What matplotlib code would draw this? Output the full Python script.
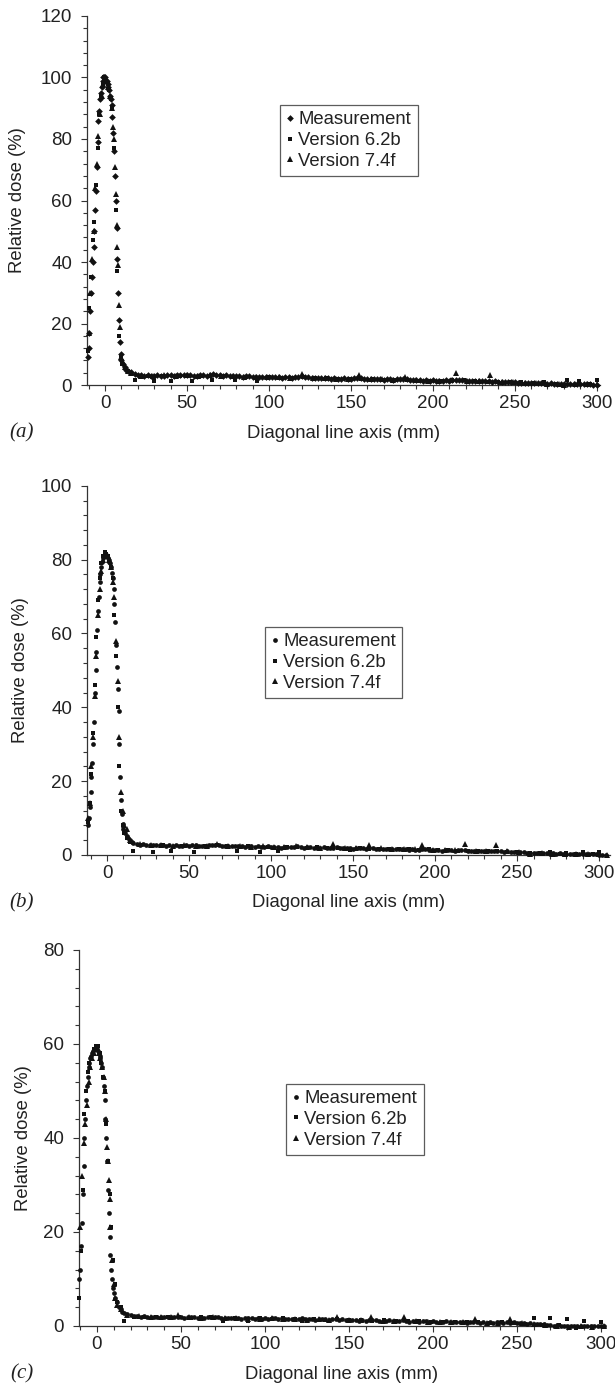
import numpy as np
import matplotlib
matplotlib.use("Agg")
import matplotlib.pyplot as plt
from matplotlib.ticker import MultipleLocator

plt.rcParams['font.family'] = ['Liberation Sans', 'DejaVu Sans']
TXT = "#222222"
INK = "#111111"

labels = ["Measurement", "Version 6.2b", "Version 7.4f"]

# ---------------- panel (a) ----------------
meas_a_x = [-10.5,-10,-9.5,-9,-8.5,-8,-7.5,-7,-6.5,-6,-5.5,-5,-4.5,-4,-3.5,-3,-2.5,-2,-1.5,-1,
            -0.5,0,0.5,1,1.5,2,2.5,3,3.5,4,4.5,5,5.5,6,6.5,7,7.5,8,8.5,9,9.5,10,11,12,13,14]
meas_a_y = [9,12,17,24,30,35,40,45,50,57,63,71,79,86,89,93,95,97,99,100,
            100,100,99,99,98,97,96,94,93,91,87,82,76,68,60,51,41,30,21,14,10,8,7,6,5,4.5]
meas_a_tail = [4.2,3.6,3.3,3.1,3.0,3.1,2.9,3.0,3.1,2.9,
               3.0,3.1,3.2,3.0,3.1,3.3,3.4,3.2,3.1,3.0,
               3.0,3.1,3.2,3.0,3.3,3.5,3.3,3.1,3.0,3.1,
               3.0,2.9,3.0,2.8,2.7,2.8,2.9,2.7,2.6,2.7,
               2.6,2.7,2.6,2.5,2.6,2.5,2.4,2.5,2.6,2.4,
               2.5,2.7,2.8,2.6,2.5,2.4,2.3,2.4,2.2,2.3,
               2.2,2.1,2.2,2.0,2.1,2.2,2.0,2.1,2.3,2.4,
               2.2,2.0,1.9,1.8,1.9,2.0,1.8,1.7,1.9,1.8,
               1.7,1.8,1.9,2.0,1.8,1.6,1.5,1.6,1.5,1.4,
               1.5,1.4,1.5,1.4,1.3,1.4,1.5,1.4,1.6,1.5,
               1.7,1.5,1.4,1.3,1.4,1.3,1.2,1.3,1.4,1.2,
               1.1,1.2,1.0,1.1,1.0,0.9,1.0,0.9,0.8,0.8,
               0.7,0.6,0.7,0.6,0.5,0.6,0.5,0.4,0.5,0.4,
               0.4,0.3,0.4,0.3,0.3,0.2,0.3,0.2,0.2,0.3,
               0.2,0.1,0.1]
meas_a_tail_x = np.arange(16, 301, 2)

v62_a_x = [-10.5,-9.5,-8.5,-7.5,-6.5,-5.5,-4.5,-3.5,-2.5,-1.5,-0.5,0.5,1.5,2.5,3.5,4.5,5.5,6.5,7.5,8.5,
           9.5,10.5,12,14,
           18,22,26,30,35,40,46,53,59,65,72,79,86,93,100,107,114,121,128,135,
           142,149,156,163,170,177,184,191,198,205,212,219,226,233,240,247,254,261,268,275,
           282,289,296,300]
v62_a_y = [11,25,35,47,53,65,77,88,94,98,100,99,98,96,93,90,77,57,37,16,
           9,7,5.5,4.5,
           1.5,3.0,2.9,1.4,2.9,1.3,3.0,1.4,3.0,1.5,3.0,1.5,2.7,1.4,2.6,2.4,2.3,2.5,2.2,2.3,
           2.0,2.1,2.0,1.8,1.7,1.6,1.7,1.3,1.4,1.3,1.5,1.6,1.3,1.1,1.0,0.9,1.0,0.6,0.9,0.4,
           1.5,1.2,0.4,1.6]

v74_a_x = [-10,-9,-8,-7,-6,-5,-4,-3,-2,-1,0,1,2,3,4,5,5.5,6,6.5,7,7.5,8,8.5,9,10,11,12,14,
           16,22,29,36,43,50,57,64,71,78,85,92,99,106,113,120,127,134,141,148,
           155,162,169,176,183,190,197,204,211,214,221,228,235,242,249,256,263,270,277,280,
           287,294,300]
v74_a_y = [17,30,41,50,64,72,81,88,94,98,100,99,97,94,90,84,80,71,62,52,45,39,26,19,9,7.5,6,4.5,
           3.8,3.0,2.9,3.1,3.0,3.4,3.0,3.1,3.0,2.8,2.7,2.6,2.5,2.5,2.4,3.6,2.3,2.2,2.1,2.0,
           3.2,1.9,1.8,1.7,2.6,1.5,1.4,1.4,1.5,4.0,1.4,1.3,3.2,1.0,0.9,0.7,0.6,0.4,0.3,0.0,
           0.3,0.2,0.3]

# ---------------- panel (b) ----------------
meas_b_x = [-11.5,-11,-10.5,-10,-9.5,-9,-8.5,-8,-7.5,-7,-6.5,-6,-5.5,-5,-4.5,-4,-3.5,-3,-2.5,-2,
            -1.5,-1,-0.5,0,0.5,1,1.5,2,2.5,3,3.5,4,4.5,5,5.5,6,6.5,7,7.5,8,8.5,9,9.5,10,
            11,12,13,14,15,16]
meas_b_y = [8,10,13,17,21,25,30,36,44,50,55,61,66,70,74,76,78,79.5,80.5,81,
            81.5,81.5,81,81,80.5,80,79.5,79,78,76.5,75,72,68,63,57,51,45,39,30,21,15,11,8.5,7,
            6,5,4.5,4,3.5,3.2]
meas_b_tail = [3.0,2.8,2.9,2.7,2.8,2.7,2.6,2.7,2.6,2.5,
               2.6,2.5,2.6,2.4,2.5,2.6,2.5,2.7,2.6,2.5,
               2.4,2.5,2.6,2.7,2.8,2.6,2.5,2.4,2.5,2.4,
               2.3,2.4,2.3,2.2,2.3,2.4,2.2,2.3,2.1,2.2,
               2.3,2.2,2.1,2.2,2.0,2.1,2.2,2.1,2.2,2.3,
               2.1,2.0,2.1,2.2,2.0,1.9,2.0,2.1,2.0,1.9,
               2.0,2.1,1.9,1.8,1.9,1.8,1.7,1.8,1.9,1.8,
               1.7,1.8,1.9,1.7,1.6,1.7,1.5,1.6,1.7,1.6,
               1.5,1.6,1.5,1.4,1.5,1.4,1.3,1.5,1.6,1.4,
               1.3,1.4,1.3,1.2,1.3,1.4,1.3,1.2,1.3,1.4,
               1.3,1.2,1.1,1.2,1.1,1.0,1.1,1.2,1.0,1.1,
               1.2,1.0,0.9,1.0,0.9,0.8,0.9,0.7,0.8,0.6,
               0.5,0.6,0.5,0.4,0.5,0.4,0.3,0.4,0.3,0.4,
               0.3,0.2,0.3,0.2,0.3,0.2,0.3,0.2,0.3,0.2,
               0.2,0.1,0.1,0.0]
meas_b_tail_x = np.arange(18, 305, 2)

v62_b_x = [-11.5,-10.5,-9.5,-8.5,-7.5,-6.5,-5.5,-4.5,-3.5,-2.5,-1.5,-0.5,0.5,1.5,2.5,3.5,4.5,5.5,6.5,7.5,
           8.5,9.5,10.5,12,14,16,
           20,28,34,39,46,53,60,67,73,79,86,93,98,104,110,116,122,128,134,141,
           148,154,160,166,172,178,184,190,196,202,208,214,220,226,232,238,244,250,258,264,
           270,276,280,286,290,296,300]
v62_b_y = [9,14,22,33,46,59,69,75,79,81,82,81.5,81,80,78,75,65,54,40,24,
           12,8,6,4.5,3.5,1.0,
           2.7,0.8,2.6,1.0,2.5,0.8,2.5,2.7,2.4,1.0,2.3,0.8,2.2,1.0,2.1,2.2,2.0,2.1,2.0,1.9,
           1.3,1.8,1.7,1.7,1.6,1.5,1.5,1.4,1.5,1.3,1.3,1.2,1.2,1.1,1.0,1.1,0.9,0.9,0.5,0.4,
           0.8,0.3,0.6,0.2,0.8,0.2,0.9]

v74_b_x = [-11.5,-10.5,-9.5,-8.5,-7.5,-6.5,-5.5,-4.5,-3.5,-2.5,-1.5,-0.5,0.5,1.5,2.5,3.5,4.5,5.5,6.5,7.5,
           8.5,9.5,10.5,12,14,
           20,27,33,40,47,54,61,67,74,81,88,95,102,108,115,122,130,138,145,152,
           160,167,174,181,188,192,199,206,212,218,225,231,237,244,251,258,265,272,279,286,
           293,300,305]
v74_b_y = [10,14,24,32,43,54,65,72,77,80,81,81.5,81,80,78,74,70,58,47,32,
           17,12,8,7,4,
           3.0,2.7,2.6,2.5,2.6,2.5,2.4,3.0,2.4,2.3,2.2,2.3,2.1,2.2,2.5,2.1,2.0,3.0,1.9,1.8,
           2.7,1.8,1.7,1.6,1.6,2.8,1.4,1.4,1.3,3.0,1.2,1.2,2.6,1.0,0.9,0.3,0.4,0.3,0.2,0.2,
           0.2,0.3,0.0]

# ---------------- panel (c) ----------------
meas_c_x = [-10.5,-10,-9.5,-9,-8.5,-8,-7.5,-7,-6.5,-6,-5.5,-5,-4.5,-4,-3.5,-3,-2.5,-2,-1.5,-1,
            -0.5,0,0.5,1,1.5,2,2.5,3,3.5,4,4.5,5,5.5,6,6.5,7,7.5,8,8.5,9,9.5,10,
            11,12,13,14,15]
meas_c_y = [10,12,17,22,28,34,40,44,48,51,53,55,56,57,57.5,58,58.5,59,59,59,
            59,59,58.5,58,57.5,57,56,55,53,51,48,44,40,35,29,24,19,15,12,10,8,7,
            6,5,4,3.5,3]
meas_c_tail = [2.8,2.5,2.3,2.2,2.1,2.0,2.1,1.9,2.0,1.9,
               2.0,1.9,1.8,1.9,1.8,1.9,2.0,1.8,1.7,1.8,
               1.9,1.8,1.7,1.8,1.7,1.8,1.9,2.0,1.8,1.7,
               1.6,1.7,1.6,1.7,1.6,1.5,1.6,1.7,1.6,1.5,
               1.6,1.5,1.6,1.5,1.6,1.7,1.5,1.6,1.5,1.4,
               1.5,1.4,1.5,1.6,1.4,1.5,1.4,1.3,1.4,1.5,
               1.4,1.3,1.4,1.5,1.3,1.4,1.3,1.2,1.3,1.2,
               1.1,1.2,1.1,1.2,1.3,1.2,1.1,1.0,1.1,1.2,
               1.1,1.0,1.1,1.2,1.0,0.9,1.0,1.1,0.9,1.0,
               1.1,0.9,1.0,0.9,0.8,0.9,1.0,0.8,0.9,0.8,
               0.9,0.8,0.7,0.8,0.9,0.8,0.7,0.8,0.7,0.8,
               0.7,0.8,0.9,0.7,0.8,0.7,0.8,0.6,0.7,0.6,
               0.5,0.6,0.5,0.4,0.5,0.4,0.2,0.1,0.0,0.1,
               0.0,-0.1,0.0,-0.1,0.0,-0.1,0.0,-0.1,0.0,-0.1,
               0.0,-0.1,0.0,0.0]
meas_c_tail_x = np.arange(16, 303, 2)

v62_c_x = [-10.5,-9.5,-8.5,-7.5,-6.5,-5.5,-4.5,-3.5,-2.5,-1.5,-0.5,0.5,1.5,2.5,3.5,4.5,5.5,6.5,7.5,8.5,
           9.5,10.5,12,14,16,
           22,28,35,42,49,56,62,68,75,82,90,97,104,111,118,122,129,136,143,150,
           157,164,171,178,185,192,199,206,213,220,227,234,241,248,255,260,265,270,275,280,
           285,290,295,300]
v62_c_y = [6,16,29,45,50,54,56,57,58,59,59.5,59.5,58,56,53,50,43,35,28,21,
           14,9,5,4,1.0,
           2.0,1.9,1.8,1.9,1.8,1.7,1.8,1.9,1.0,1.6,1.0,1.6,1.5,1.6,1.4,1.0,1.4,1.3,1.4,1.3,
           1.2,1.1,1.2,1.0,1.1,1.0,0.9,0.9,0.8,0.9,0.8,0.7,0.8,0.7,0.5,1.6,0.3,1.6,0.2,1.4,
           -0.5,1.0,-0.3,0.8]

v74_c_x = [-10,-9,-8,-7,-6,-5,-4,-3,-2,-1,0,1,2,3,4,5,5.5,6,6.5,7,7.5,8,9,10,11,12,14,
           18,25,32,38,44,48,55,62,69,76,83,90,97,104,111,118,125,132,138,143,
           150,157,163,170,177,183,190,197,204,211,218,225,232,239,246,253,260,267,274,281,
           288,295,302]
v74_c_y = [21,32,39,43,47,52,55,57,58,59,59,58,57,55,53,50,44,38,35,31,27,21,14,9,6,4.5,3.5,
           2.4,2.2,1.9,1.8,1.9,2.3,1.8,1.7,1.8,1.6,1.6,1.5,1.5,1.6,1.4,1.5,1.3,1.4,1.3,1.8,
           1.2,1.2,1.8,1.1,1.0,1.8,1.0,0.9,0.9,0.8,0.8,1.5,0.7,0.7,1.5,0.6,0.4,0.2,0.0,-0.2,
           0.0,-0.2,0.0]

panels = [
    dict(tag="(a)", rect=[0.1415, 0.7228, 0.834, 0.2657], xlim=(-11, 302), ymax=120, meas_marker="D",
         meas=(list(meas_a_x) + list(meas_a_tail_x), meas_a_y + meas_a_tail),
         v62=(v62_a_x, v62_a_y), v74=(v74_a_x, v74_a_y), leg=(0.376, 0.759), ylab_x=-0.135),
    dict(tag="(b)", rect=[0.1415, 0.3845, 0.850, 0.2657], xlim=(-12.2, 306.5), ymax=100, meas_marker="o",
         meas=(list(meas_b_x) + list(meas_b_tail_x), meas_b_y + meas_b_tail),
         v62=(v62_b_x, v62_b_y), v74=(v74_b_x, v74_b_y), leg=(0.340, 0.618), ylab_x=-0.128),
    dict(tag="(c)", rect=[0.1285, 0.0454, 0.854, 0.2707], xlim=(-10.7, 302), ymax=80, meas_marker="o",
         meas=(list(meas_c_x) + list(meas_c_tail_x), meas_c_y + meas_c_tail),
         v62=(v62_c_x, v62_c_y), v74=(v74_c_x, v74_c_y), leg=(0.394, 0.644), ylab_x=-0.105),
]

fig = plt.figure(figsize=(6.15, 13.89), dpi=100)

for p in panels:
    ax = fig.add_axes(p["rect"])
    mx, my = p["meas"]
    ax.plot(mx, my, ls="none", marker=p["meas_marker"], ms=3.4, color=INK, mew=0,
            clip_on=False, label=labels[0], zorder=3)
    ax.plot(p["v62"][0], p["v62"][1], ls="none", marker="s", ms=3.4, color=INK, mew=0,
            clip_on=False, label=labels[1], zorder=3)
    ax.plot(p["v74"][0], p["v74"][1], ls="none", marker="^", ms=4.6, color=INK, mew=0,
            clip_on=False, label=labels[2], zorder=3)

    ax.set_xlim(*p["xlim"])
    ax.set_ylim(0, p["ymax"])
    ax.xaxis.set_major_locator(MultipleLocator(50))
    ax.xaxis.set_minor_locator(MultipleLocator(10))
    ax.yaxis.set_major_locator(MultipleLocator(20))
    ax.yaxis.set_minor_locator(MultipleLocator(4))

    for s in ["top", "right"]:
        ax.spines[s].set_visible(False)
    for s in ["left", "bottom"]:
        ax.spines[s].set_linewidth(0.9)
        ax.spines[s].set_color("#333333")
    ax.tick_params(which="major", direction="out", length=4.2, width=0.8, color="#333333",
                   labelsize=13.5, labelcolor=TXT)
    ax.tick_params(axis="y", which="major", pad=6.5)
    ax.tick_params(axis="x", which="major", pad=3)
    ax.tick_params(which="minor", direction="out", length=3.2, width=0.8, color="#333333")

    ax.set_xlabel("Diagonal line axis (mm)", fontsize=13.3, color=TXT, va="center")
    ax.xaxis.set_label_coords(0.5, -0.13)
    ax.set_ylabel("Relative dose (%)", fontsize=13.3, color=TXT, va="center")
    ax.yaxis.set_label_coords(p["ylab_x"], 0.5)

    leg = ax.legend(loc="upper left", bbox_to_anchor=p["leg"], borderaxespad=0, frameon=True,
                    fancybox=False, shadow=False, fontsize=13.3, handlelength=0.4,
                    handletextpad=0.25, labelspacing=0.2, borderpad=0.35, markerscale=1.0)
    leg.get_frame().set_edgecolor("#333333")
    leg.get_frame().set_linewidth(0.9)
    for t in leg.get_texts():
        t.set_color(TXT)

    # panel tag in italic serif, placed under the y axis
    pos = ax.get_position()
    fig.text(22 / 615, pos.y0 - 48 / 1389, p["tag"], fontsize=15, style="italic",
             family="Liberation Serif", color=TXT, ha="center", va="center")

fig.savefig("out.png", dpi=100)
